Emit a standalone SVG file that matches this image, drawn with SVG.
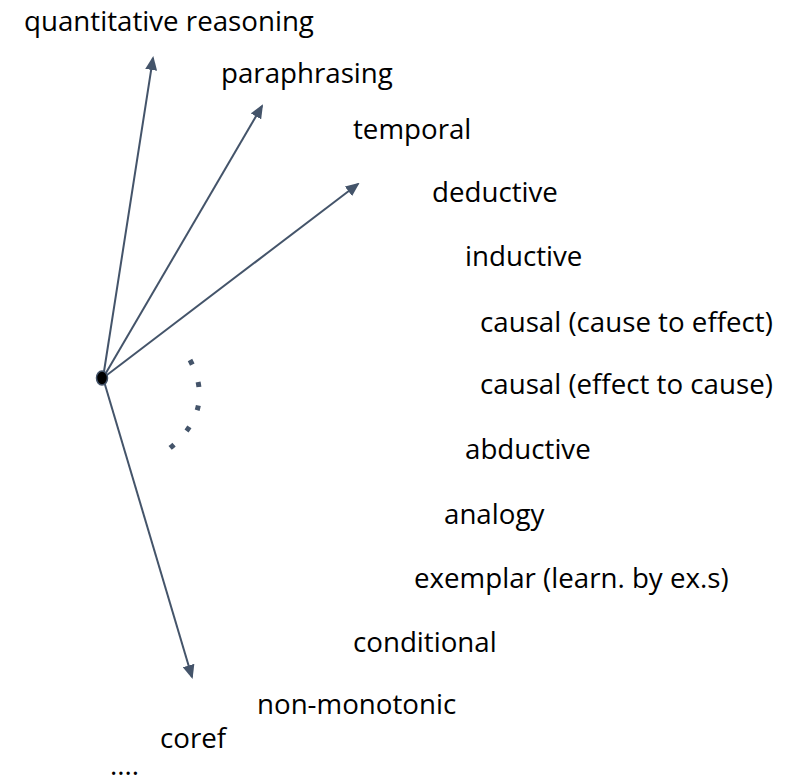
<svg xmlns="http://www.w3.org/2000/svg" width="802" height="777" viewBox="0 0 802 777">
<defs>
<style>
.lbl{font-family:"Open Sans","Noto Sans",sans-serif;font-size:27.7px;fill:#000}
.conn{stroke:#44546A;stroke-width:2;fill:none}
.dots{stroke:#44546A;stroke-width:5;fill:none;stroke-dasharray:5 18.5}
</style>
<marker id="ah" markerWidth="14" markerHeight="12" refX="12" refY="6" orient="auto" markerUnits="userSpaceOnUse" viewBox="0 0 14 12">
<path d="M0,0 L14,6 L0,12 z" fill="#44546A"/>
</marker>
</defs>
<rect width="802" height="777" fill="#fff"/>
<g id="connectors">
<line class="conn" x1="103" y1="378" x2="153" y2="58" marker-end="url(#ah)"/>
<line class="conn" x1="103" y1="378" x2="262" y2="106" marker-end="url(#ah)"/>
<line class="conn" x1="103" y1="378" x2="358" y2="184" marker-end="url(#ah)"/>
<line class="conn" x1="103" y1="378" x2="192" y2="677" marker-end="url(#ah)"/>
<path class="dots" d="M190,360 Q216,410 170,448"/>
</g>
<g id="center"><ellipse cx="102" cy="378" rx="5.5" ry="7" fill="#000" stroke="#44546A" stroke-width="1.5"/></g>
<g id="quantitative"><text class="lbl" x="24" y="31">quantitative reasoning</text></g>
<g id="paraphrasing"><text class="lbl" x="221" y="83">paraphrasing</text></g>
<g id="temporal"><text class="lbl" x="353" y="139">temporal</text></g>
<g id="deductive"><text class="lbl" x="432" y="202">deductive</text></g>
<g id="inductive"><text class="lbl" x="465" y="266">inductive</text></g>
<g id="causal1"><text class="lbl" x="480" y="332">causal (cause to effect)</text></g>
<g id="causal2"><text class="lbl" x="480" y="394">causal (effect to cause)</text></g>
<g id="abductive"><text class="lbl" x="465" y="459">abductive</text></g>
<g id="analogy"><text class="lbl" x="444" y="524">analogy</text></g>
<g id="exemplar"><text class="lbl" x="414" y="588">exemplar (learn. by ex.s)</text></g>
<g id="conditional"><text class="lbl" x="353" y="652">conditional</text></g>
<g id="nonmonotonic"><text class="lbl" x="257" y="714">non-monotonic</text></g>
<g id="coref"><text class="lbl" x="160" y="748">coref</text></g>
<g id="more"><text class="lbl" x="110" y="775">....</text></g>
</svg>
